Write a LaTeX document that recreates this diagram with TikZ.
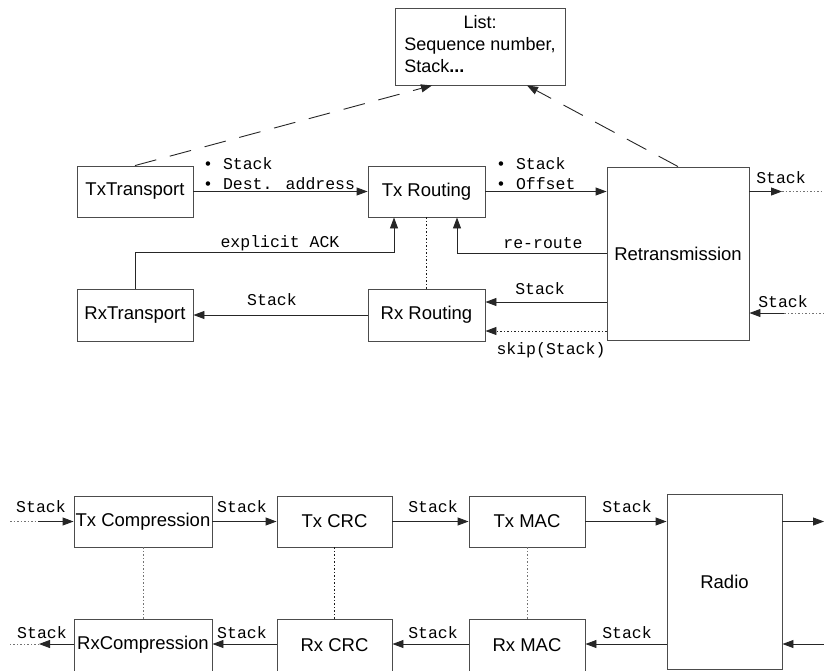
\documentclass[tikz,border=0pt]{standalone}
\usepackage{fontspec}
\setmainfont{Liberation Sans}
\newfontfamily\monofont{Liberation Mono}
\usetikzlibrary{arrows.meta,calc}
\begin{document}
\begin{tikzpicture}[x=1pt,y=-1pt,
 box/.style={draw=black!70, line width=0.9pt, inner sep=0pt, font=\fontsize{18.5}{22}\selectfont, text=black},
 lbl/.style={font=\monofont\fontsize{16.5}{20}\selectfont, inner sep=0pt},
 arr/.style={line width=0.9pt, draw=black!85, -{Triangle[length=11pt,width=8pt]}},
 ln/.style={line width=0.9pt, draw=black!85},
 dots/.style={line width=0.9pt, draw=black!55, dash pattern=on 1.5pt off 2pt},
 dsh/.style={line width=0.9pt, draw=black!85, dash pattern=on 22pt off 14pt}]
\useasboundingbox (0,0) rectangle (824,670);

% top boxes
\node[box, minimum width=170pt, minimum height=77pt, font=\fontsize{18}{22}\selectfont] (list) at (480,46.5)
  {\begin{tabular}{@{}l@{}}\multicolumn{1}{@{}c@{}}{List:}\\Sequence number,\\Stack\textbf{...}\end{tabular}};
\node[box, minimum width=116pt, minimum height=51pt] (txt) at (135,191.5) {TxTransport};
\node[box, minimum width=117pt, minimum height=51pt] (txr) at (426.5,191.5) {Tx Routing};
\node[box, minimum width=142pt, minimum height=173pt] (ret) at (678,253.5) {Retransmission};
\node[box, minimum width=116pt, minimum height=52pt] (rxt) at (135,315) {RxTransport};
\node[box, minimum width=117pt, minimum height=52pt] (rxr) at (426.5,315) {Rx Routing};

% top connectors
\draw[arr] (txt.east) -- (txr.west);
\draw[arr] (txr.east) -- (ret.west |- txr.east);
\coordinate (rOut) at (782,191.5);
\coordinate (rOutEnd) at (824,191.5);
\draw[arr] (ret.east |- txr.east) -- (rOut);
\draw[dots] (rOut) -- (rOutEnd);
\coordinate (rInS) at (824,313);
\coordinate (rIn) at (784,313);
\draw[dots] (rInS) -- (rIn);
\draw[arr] (rIn) -- (ret.east |- rIn);
\draw[arr] (ret.west) -| ([xshift=30.5pt]txr.south);
\draw[arr] (rxt.north) |- ++(0,-36) -| ([xshift=-32.5pt]txr.south);
\draw[dots, draw=black!90] (txr.south) -- (rxr.north);
\coordinate (yA) at (0,302);
\coordinate (yB) at (0,331);
\draw[arr] (ret.west |- yA) -- (rxr.east |- yA);
\draw[arr, dots, draw=black!85] (ret.west |- yB) -- (rxr.east |- yB);
\draw[arr] (rxr.west) -- (rxt.east);
\draw[dsh, -{Triangle[length=11pt,width=8pt]}] (txt.north) -- ([xshift=-48pt]list.south);
\draw[dsh, -{Triangle[length=11pt,width=8pt]}] (ret.north) -- ([xshift=47pt]list.south);

% top labels
\node[lbl, anchor=west] (l1) at (203,164) {• Stack};
\node[lbl, anchor=west] (l2) at (203,184) {• Dest. address};
\node[lbl, anchor=west] (l3) at (496,164) {• Stack};
\node[lbl, anchor=west] (l4) at (496,184) {• Offset};
\node[lbl] (l5) at (543,243) {re-route};
\node[lbl] (l6) at (540,289) {Stack};
\node[lbl] (l7) at (551,350) {skip(Stack)};
\node[lbl] (l8) at (781,178) {Stack};
\node[lbl] (l9) at (783,302) {Stack};
\node[lbl] (l10) at (280,243) {explicit ACK};
\node[lbl] (l11) at (272,300) {Stack};

% bottom boxes
\node[box, minimum width=138pt, minimum height=51pt] (txc) at (143,521.5) {Tx Compression};
\node[box, minimum width=115pt, minimum height=51pt] (txcrc) at (334.5,521.5) {Tx CRC};
\node[box, minimum width=116pt, minimum height=51pt] (txmac) at (527,521.5) {Tx MAC};
\node[box, minimum width=115pt, minimum height=175pt] (radio) at (724.5,581.5) {Radio};
\node[box, minimum width=138pt, minimum height=52pt] (rxc) at (143,645) {RxCompression};
\node[box, minimum width=115pt, minimum height=52pt] (rxcrc) at (334.5,645) {Rx CRC};
\node[box, minimum width=116pt, minimum height=52pt] (rxmac) at (527,645) {Rx MAC};

% bottom connectors
\coordinate (bInS) at (10,521.5);
\coordinate (bIn) at (38,521.5);
\draw[dots] (bInS) -- (bIn);
\draw[arr] (bIn) -- (txc.west);
\draw[arr] (txc.east) -- (txcrc.west);
\draw[arr] (txcrc.east) -- (txmac.west);
\draw[arr] (txmac.east) -- (radio.west |- txmac.east);
\coordinate (bOut) at (824,521.5);
\draw[arr] (radio.east |- txmac.east) -- (bOut);
\coordinate (yR) at (0,644);
\coordinate (bIn2) at (824,644);
\draw[arr] (bIn2) -- (radio.east |- yR);
\draw[arr] (radio.west |- yR) -- (rxmac.east |- yR);
\draw[arr] (rxmac.west |- yR) -- (rxcrc.east |- yR);
\draw[arr] (rxcrc.west |- yR) -- (rxc.east |- yR);
\coordinate (bOut2) at (39,644);
\coordinate (bOut2E) at (10,644);
\draw[arr] (rxc.west |- yR) -- (bOut2);
\draw[dots] (bOut2) -- (bOut2E);
\draw[dots] (txc.south) -- (rxc.north);
\draw[dots, draw=black!90] (txcrc.south) -- (rxcrc.north);
\draw[dots] (txmac.south) -- (rxmac.north);

% bottom labels
\node[lbl] (b1) at (41,507) {Stack};
\node[lbl] (b2) at (242,507) {Stack};
\node[lbl] (b3) at (433,507) {Stack};
\node[lbl] (b4) at (627,507) {Stack};
\node[lbl] (b5) at (42,633) {Stack};
\node[lbl] (b6) at (242,633) {Stack};
\node[lbl] (b7) at (433,633) {Stack};
\node[lbl] (b8) at (627,633) {Stack};
\end{tikzpicture}
\end{document}
